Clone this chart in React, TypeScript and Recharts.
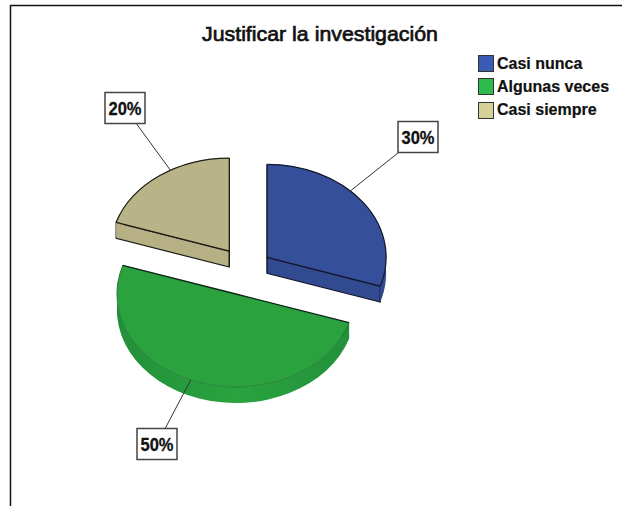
import React from "react";
import { PieChart, Pie, Legend } from "recharts";

const categories = ["Casi nunca", "Algunas veces", "Casi siempre"];
const percentages = [30, 50, 20];

const sliceColors = ["#354f9b", "#2aa33f", "#b9b388"];
const wallColors = ["#314a90", "#22903a", "#b6b084"];
const outlineColors = ["#14182c", "#1c6a2c", "#1c1c14"];
const legendColors = ["#3a5cb4", "#2dbb4c", "#d6d199"];

const data = categories.map((name, i) => ({
  name,
  value: percentages[i],
  fill: sliceColors[i],
}));

const WIDTH = 622;
const HEIGHT = 506;
const RX = 119;
const RY = 93; // tilted pie, so the circle gets squashed
const DEPTH = 16;
// how far each slice is pulled out, as a share of the radius
const explodeX = [0.24, 0.22, 0.21];
const explodeY = [0.25, 0.26, 0.265];
const labelBoxes = [
  { x: 418, y: 137 },
  { x: 157, y: 444 },
  { x: 125, y: 108 },
];

const rad = (deg: number) => (deg * Math.PI) / 180;

// center of a slice after it has been pulled out of the pie
const sliceCenter = (cx: number, cy: number, midAngle: number, index: number) => ({
  x: cx + Math.cos(rad(midAngle)) * RX * explodeX[index],
  y: cy - Math.sin(rad(midAngle)) * RY * explodeY[index],
});

const PieSlice3D = (props: any) => {
  const { cx, cy, startAngle, endAngle, fill, index } = props;
  const mid = (startAngle + endAngle) / 2;
  const c = sliceCenter(cx, cy, mid, index);
  const sx = c.x + Math.cos(rad(startAngle)) * RX;
  const sy = c.y - Math.sin(rad(startAngle)) * RY;
  const ex = c.x + Math.cos(rad(endAngle)) * RX;
  const ey = c.y - Math.sin(rad(endAngle)) * RY;
  const large = Math.abs(startAngle - endAngle) > 180 ? 1 : 0;
  const arc = `M${sx},${sy} A${RX},${RY} 0 ${large} 1 ${ex},${ey}`;
  const isGreen = index === 1;
  const wallStroke = isGreen ? "none" : outlineColors[index];
  const gradId = `rim-${index}`;
  const edgeWall = (x: number, y: number) =>
    `M${c.x},${c.y} L${x},${y} L${x},${y + DEPTH} L${c.x},${c.y + DEPTH} Z`;

  return (
    <g>
      <defs>
        <linearGradient id={gradId} gradientUnits="userSpaceOnUse" x1={c.x - RX} x2={c.x + RX} y1={0} y2={0}>
          <stop offset="0" stopColor={wallColors[index]} />
          <stop offset="0.5" stopColor={fill} />
          <stop offset="1" stopColor={wallColors[index]} />
        </linearGradient>
      </defs>
      <path d={edgeWall(sx, sy)} fill={wallColors[index]} stroke={wallStroke} strokeWidth={1.2} />
      <path d={edgeWall(ex, ey)} fill={wallColors[index]} stroke={wallStroke} strokeWidth={1.2} />
      <path
        d={`${arc} L${ex},${ey + DEPTH} A${RX},${RY} 0 ${large} 0 ${sx},${sy + DEPTH} Z`}
        fill={`url(#${gradId})`}
        stroke="none"
      />
      <path d={`${arc} L${c.x},${c.y} Z`} fill={fill} stroke="none" />
      <path d={arc} fill="none" stroke={outlineColors[index]} strokeWidth={isGreen ? 0.7 : 1.2} />
      <path
        d={`M${sx},${sy} L${c.x},${c.y} L${ex},${ey}`}
        fill="none"
        stroke={isGreen ? "#10261a" : outlineColors[index]}
        strokeWidth={1.3}
      />
    </g>
  );
};

const renderLabel = (props: any) => {
  const { cx, cy, midAngle, value, index } = props;
  const box = labelBoxes[index];
  const c = sliceCenter(cx, cy, midAngle, index);
  const dx = box.x - c.x;
  const dy = box.y - c.y;
  const t = 1 / Math.hypot(dx / RX, dy / RY);
  return (
    <g>
      <line x1={c.x + dx * t} y1={c.y + dy * t} x2={box.x} y2={box.y} stroke="#333" strokeWidth={1} />
      <rect x={box.x - 20} y={box.y - 15.5} width={40} height={31} fill="#fff" stroke="#444" strokeWidth={1.5} />
      <text
        x={box.x}
        y={box.y + 7}
        textAnchor="middle"
        fontFamily="Liberation Sans"
        fontWeight="bold"
        fontSize={19}
        fill="#111"
        stroke="#111"
        strokeWidth={0.3}
        textLength={33}
        lengthAdjust="spacingAndGlyphs"
      >
        {`${value}%`}
      </text>
    </g>
  );
};

const LegendBox = () => (
  <div
    style={{
      fontFamily: "Liberation Sans",
      fontWeight: "bold",
      fontSize: 16,
      color: "#111",
      WebkitTextStroke: "0.2px #111",
    }}
  >
    {categories.map((name, i) => (
      <div key={name} style={{ display: "flex", alignItems: "center", height: 23.3 }}>
        <span
          style={{
            width: 14,
            height: 15,
            marginRight: 3,
            background: legendColors[i],
            border: "1px solid #333",
            flexShrink: 0,
          }}
        />
        {name}
      </div>
    ))}
  </div>
);

export default function App() {
  return (
    <div style={{ position: "fixed", left: 0, top: 0, width: WIDTH, height: HEIGHT, background: "#fff" }}>
      <PieChart width={WIDTH} height={HEIGHT} margin={{ top: 0, right: 0, bottom: 0, left: 0 }}>
        <line x1={10.5} y1={5.5} x2={WIDTH} y2={5.5} stroke="#111" strokeWidth={1.5} />
        <line x1={10.5} y1={5} x2={10.5} y2={HEIGHT} stroke="#111" strokeWidth={1.5} />
        <text
          x={320}
          y={41}
          textAnchor="middle"
          fontFamily="Liberation Sans"
          fontSize={21}
          fill="#111"
          stroke="#111"
          strokeWidth={0.7}
          textLength={236}
          lengthAdjust="spacingAndGlyphs"
        >
          Justificar la investigación
        </text>
        <Pie
          data={data}
          dataKey="value"
          nameKey="name"
          cx={244}
          cy={271}
          outerRadius={RX}
          startAngle={90}
          endAngle={-270}
          stroke="none"
          shape={PieSlice3D}
          label={renderLabel}
          labelLine={false}
          isAnimationActive={false}
        />
        <Legend
          content={<LegendBox />}
          layout="vertical"
          wrapperStyle={{ position: "absolute", left: 478, top: 52, width: 140, bottom: "auto" }}
        />
      </PieChart>
    </div>
  );
}
